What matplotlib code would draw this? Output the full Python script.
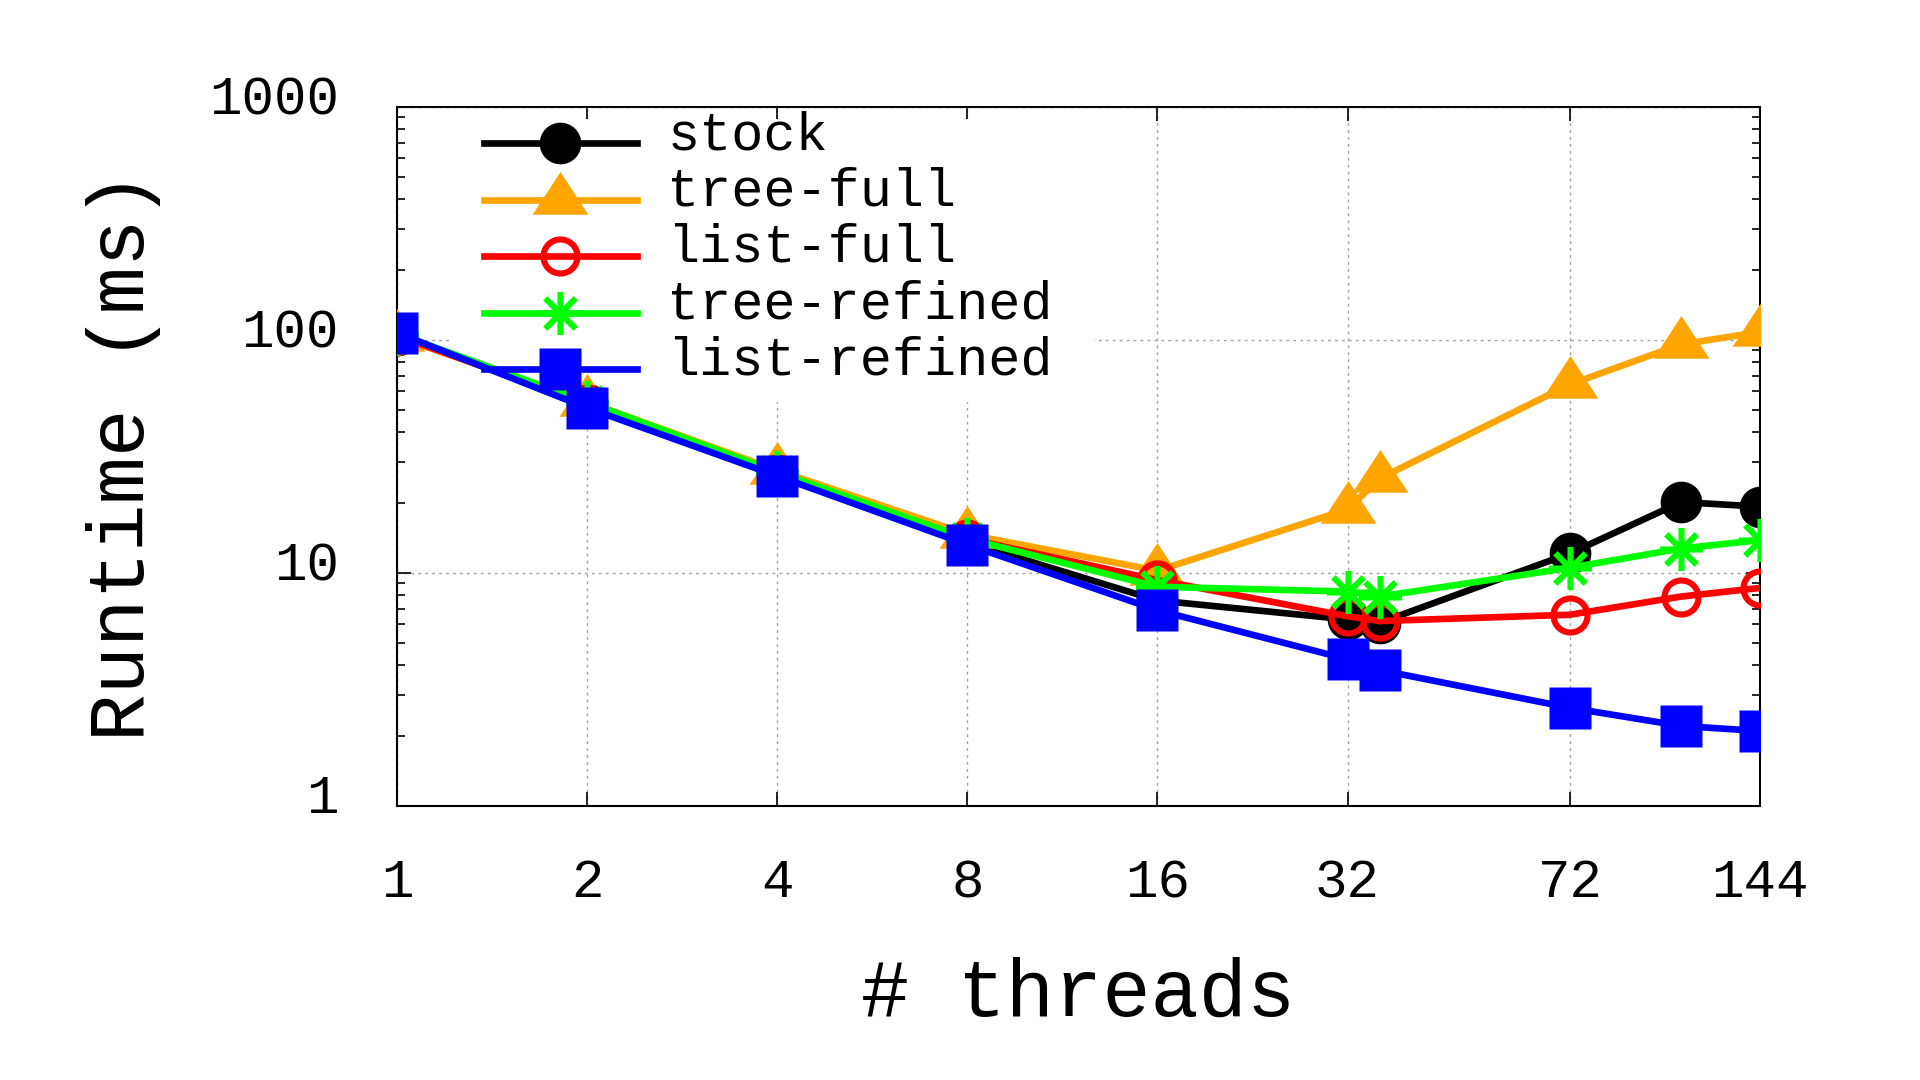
import numpy as np
import matplotlib
matplotlib.use("Agg")
import matplotlib.pyplot as plt
from matplotlib.path import Path
from matplotlib.patches import Rectangle
from matplotlib.ticker import FixedLocator, NullFormatter, LogLocator
from matplotlib.legend_handler import HandlerLine2D
import matplotlib.transforms as mtransforms

plt.rcParams['font.family'] = ['Liberation Mono', 'DejaVu Sans Mono']

threads = [1, 2, 4, 8, 16, 32, 36, 72, 108, 144]
stock = [105, 53, 26.5, 13.5, 7.6, 6.3, 6.1, 12.1, 20.1, 19.2]
tree_full = [103, 54, 27.5, 14.6, 10.2, 18.7, 25.4, 64.3, 95.5, 108]
list_full = [104, 53, 26.5, 14.0, 9.3, 6.5, 6.2, 6.6, 7.9, 8.6]
tree_refined = [106, 54, 27.0, 14.0, 8.7, 8.3, 7.9, 10.5, 12.7, 13.8]
list_refined = [107, 51, 26.0, 13.2, 6.9, 4.25, 3.82, 2.63, 2.20, 2.09]

series_names = ["stock", "tree-full", "list-full", "tree-refined", "list-refined"]
xtick_vals = [1, 2, 4, 8, 16, 32, 72, 144]
xtick_labels = ["1", "2", "4", "8", "16", "32", "72", "144"]
ytick_vals = [1, 10, 100, 1000]
ytick_labels = ["1", "10", "100", "1000"]

fig = plt.figure(figsize=(19.2, 10.8), dpi=100)
ax = fig.add_axes([0.2068, 0.2540, 0.9167 - 0.2068, 0.9012 - 0.2540])

# custom markers
tri = Path([(0, 1.0), (-0.98, -0.5), (0.98, -0.5), (0, 1.0)],
           [Path.MOVETO, Path.LINETO, Path.LINETO, Path.CLOSEPOLY])
d = 0.7071
star = Path([(0, -1), (0, 1), (-1, 0), (1, 0), (-d, -d), (d, d), (-d, d), (d, -d)],
            [Path.MOVETO, Path.LINETO] * 4)

lw = 4.8
ax.plot(threads, stock, color='black', lw=lw, marker='o', ms=30, mec='none',
        mfc='black', label=series_names[0], zorder=3)
ax.plot(threads, tree_full, color='#FFA500', lw=lw, marker=tri, ms=41, mec='none',
        mfc='#FFA500', label=series_names[1], zorder=4)
ax.plot(threads, list_full, color='#FF0000', lw=lw, marker='o', ms=24.5, mew=4.4,
        mec='#FF0000', mfc='none', label=series_names[2], zorder=5)
ax.plot(threads, tree_refined, color='#00FF00', lw=lw, marker=star, ms=31, mew=4.4,
        mec='#00FF00', label=series_names[3], zorder=6)
ax.plot(threads, list_refined, color='#0000FF', lw=lw, marker='s', ms=30, mec='none',
        mfc='#0000FF', label=series_names[4], zorder=7)

ax.set_xscale('log', base=2)
ax.set_yscale('log')
ax.set_xlim(1, 144)
ax.set_ylim(1, 1000)

ax.set_xticks(xtick_vals)
ax.set_xticklabels(xtick_labels)
ax.xaxis.set_minor_locator(FixedLocator([]))
ax.set_yticks(ytick_vals)
ax.set_yticklabels(ytick_labels)
ax.yaxis.set_minor_locator(LogLocator(base=10, subs=np.arange(2, 10)))
ax.yaxis.set_minor_formatter(NullFormatter())

ax.tick_params(axis='both', which='major', direction='in', length=10, width=1.2,
               top=True, right=True, labelsize=39, color='black')
ax.tick_params(axis='y', which='minor', direction='in', length=6, width=1.2,
               left=True, right=True)
ax.tick_params(axis='x', which='major', pad=38)
ax.tick_params(axis='y', which='major', pad=42)

offset = mtransforms.ScaledTranslation(0, 12 / 100, fig.dpi_scale_trans)
for lbl in ax.get_yticklabels():
    lbl.set_transform(lbl.get_transform() + offset)

ax.set_axisbelow(True)
ax.grid(True, which='major', color='#a0a0a0', linestyle=(0, (2, 3)), lw=1.0)

for s in ax.spines.values():
    s.set_linewidth(1.5)

# white key background (hides the grid behind the key)
ax.add_patch(Rectangle((0.039, 0.577), 0.511 - 0.039, 0.983 - 0.577,
                       transform=ax.transAxes, facecolor='white', edgecolor='none',
                       zorder=1))


class ShiftedHandler(HandlerLine2D):
    """Draw the key sample slightly below the text centre, as gnuplot does."""
    def __init__(self, shift, **kw):
        super().__init__(**kw)
        self._shift = shift

    def create_artists(self, legend, orig_handle, xdescent, ydescent, width,
                       height, fontsize, trans):
        arts = super().create_artists(legend, orig_handle, xdescent, ydescent,
                                      width, height, fontsize, trans)
        for a in arts:
            a.set_ydata(np.asarray(a.get_ydata(), dtype=float) - self._shift)
        return arts


handles, labels = ax.get_legend_handles_labels()
leg = ax.legend(handles, labels, loc='upper left',
                bbox_to_anchor=(484 / 1920, 1 - 110 / 1080),
                bbox_transform=fig.transFigure, frameon=False, fontsize=38.5,
                handlelength=2.86, handletextpad=0.57, labelspacing=0.12,
                borderpad=0, borderaxespad=0, markerscale=1.0,
                handler_map={h: ShiftedHandler(9.5) for h in handles})
leg.set_zorder(8)

ax.set_xlabel('# threads', fontsize=58)
ax.set_ylabel('Runtime (ms)', fontsize=57)
ax.xaxis.set_label_coords(0.5, -0.27)
ax.xaxis.label.set_verticalalignment('center')
ax.yaxis.set_label_coords(-0.2005, 0.5)
ax.yaxis.label.set_verticalalignment('center')

fig.savefig('out.png', dpi=100, facecolor='white')
